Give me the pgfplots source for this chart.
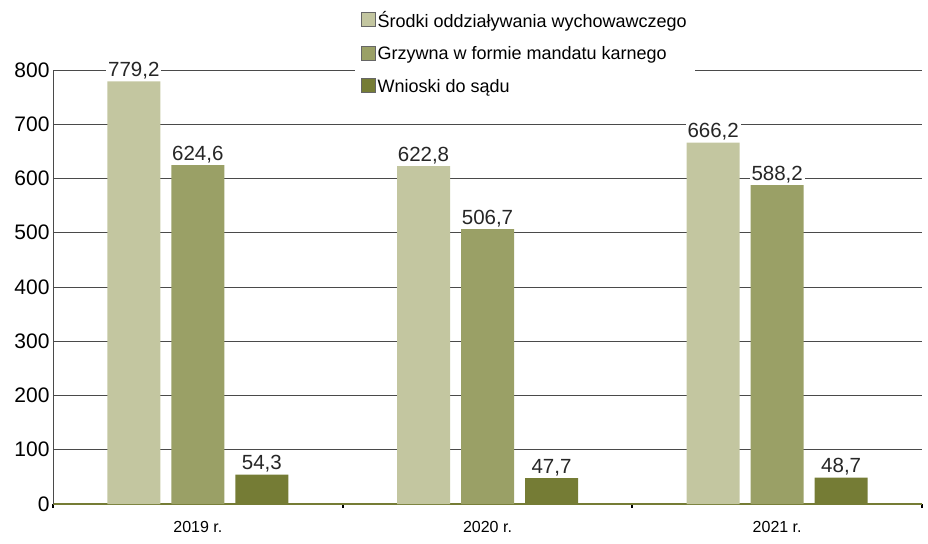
\documentclass[border=0pt]{standalone}
\usepackage{fontspec}
\setmainfont{Liberation Sans}
\usepackage{pgfplots}
\pgfplotsset{compat=1.18}
\definecolor{c1}{HTML}{C3C6A0}
\definecolor{c2}{HTML}{9AA066}
\definecolor{c3}{HTML}{757C35}
\definecolor{gridc}{HTML}{4A4A4A}
\begin{document}
\begin{tikzpicture}
\useasboundingbox (0,0) rectangle (928bp,544bp);
\begin{axis}[
  at={(53bp,40bp)}, anchor=south west,
  scale only axis, width=869bp, height=434bp,
  xmin=-0.5, xmax=2.5, ymin=0, ymax=800,
  ybar=11bp, bar width=53bp,
  /pgf/number format/assume math mode=true,
  /pgf/number format/use comma,
  xtick={0,1,2},
  xticklabels={2019 r., 2020 r., 2021 r.},
  x tick label style={font=\fontsize{16bp}{18bp}\selectfont, yshift=-14bp},
  minor xtick={-0.5,0.5,1.5,2.5},
  xtick align=outside,
  minor x tick style={draw=black, line width=2bp},
  major x tick style={draw=none},
  major tick length=0pt,
  minor tick length=4bp,
  ytick={0,100,...,800},
  ymajorgrids, grid style={draw=gridc, line width=0.8bp},
  y tick label style={font=\fontsize{21bp}{23bp}\selectfont},
  y tick style={draw=none},
  axis x line*=bottom, axis y line*=left,
  x axis line style={draw=c3, line width=2.5bp, -},
  y axis line style={draw=gridc, line width=0.8bp, -},
  nodes near coords,
  every node near coord/.append style={font=\fontsize{20.5bp}{22bp}\selectfont, fill=white, inner sep=2bp, text=black!85, /pgf/number format/.cd, fixed, fixed zerofill, precision=1, use comma},
  legend style={at={(0.3475,1.145)}, anchor=north west, draw=none, fill=white, font=\fontsize{18bp}{19bp}\selectfont, row sep=14bp, inner xsep=6bp, inner ysep=2bp, cells={anchor=west}, legend cell align=left},
  legend image code/.code={\draw[#1, draw=black!60, line width=0.5bp] (0bp,-6bp) rectangle (14bp,8bp);},
  clip=false,
]
\addplot[fill=c1, draw=none] coordinates {(0,779.2) (1,622.8) (2,666.2)};
\addplot[fill=c2, draw=none] coordinates {(0,624.6) (1,506.7) (2,588.2)};
\addplot[fill=c3, draw=none] coordinates {(0,54.3) (1,47.7) (2,48.7)};
\legend{Środki oddziaływania wychowawczego, Grzywna w formie mandatu karnego, Wnioski do sądu}
\end{axis}
\end{tikzpicture}
\end{document}
